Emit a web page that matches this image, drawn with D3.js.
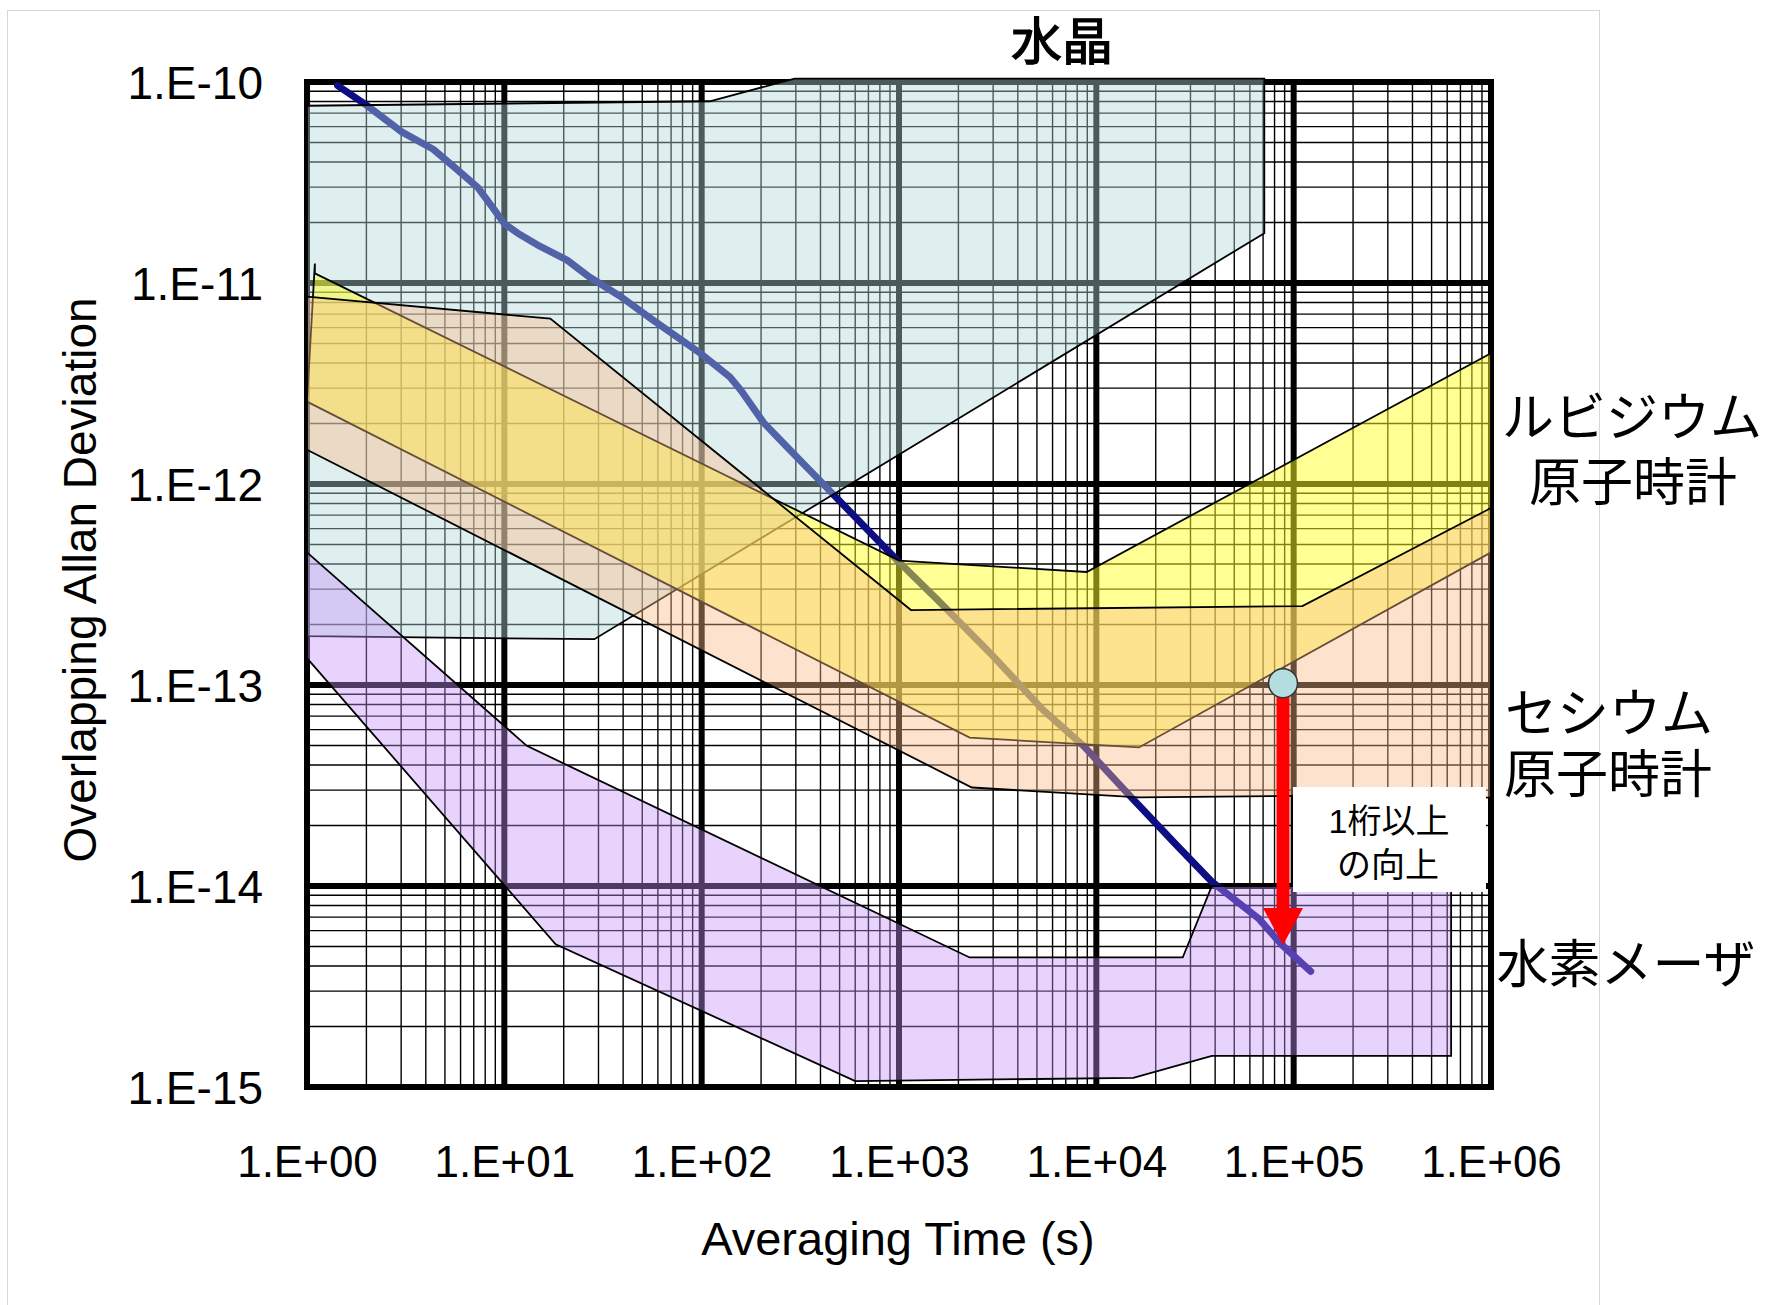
<!DOCTYPE html>
<html lang="ja"><head><meta charset="utf-8">
<script src="https://cdn.jsdelivr.net/npm/d3@7"></script>
<style>html,body{margin:0;padding:0;background:#fff;} svg{display:block;}</style>
</head><body><svg id="chart" width="1765" height="1305"></svg>
<script>
// ---------- data ----------
const xTickValues = [1, 1e1, 1e2, 1e3, 1e4, 1e5, 1e6];
const xTickLabels = ["1.E+00","1.E+01","1.E+02","1.E+03","1.E+04","1.E+05","1.E+06"];
const yTickValues = [1e-10, 1e-11, 1e-12, 1e-13, 1e-14, 1e-15];
const yTickLabels = ["1.E-10","1.E-11","1.E-12","1.E-13","1.E-14","1.E-15"];

// measured Allan deviation curve
const curveTau  = [1.43, 2.0, 3.02, 4.36, 5.51, 7.33, 8.79, 10.0, 11.7, 15.2, 20.8, 27.0, 38.8, 56.0, 99.1, 139, 158, 206, 267, 450, 982, 1570, 2900, 5350, 8610, 14800, 25600, 38500, 66400, 87100, 122000];
const curveAdev = [9.6e-11, 7.67e-11, 5.65e-11, 4.63e-11, 3.81e-11, 2.99e-11, 2.35e-11, 1.97e-11, 1.77e-11, 1.52e-11, 1.30e-11, 1.07e-11, 8.57e-12, 6.59e-12, 4.45e-12, 3.41e-12, 2.93e-12, 2.02e-12, 1.55e-12, 9.16e-13, 4.16e-13, 2.65e-13, 1.44e-13, 7.55e-14, 4.98e-14, 2.81e-14, 1.59e-14, 1.05e-14, 6.90e-15, 5.09e-15, 3.76e-15];

// quartz (水晶) region
const quartzTau  = [1, 110, 296, 71000, 71000, 28.6, 1];
const quartzAdev = [7.62e-11, 8.02e-11, 1.04e-10, 1.04e-10, 1.77e-11, 1.69e-13, 1.75e-13];

// rubidium region
const rubidiumTau  = [1.096, 1.096, 1002, 8930, 1e6, 1e6, 16440, 2280, 1];
const rubidiumAdev = [1.25e-11, 1.116e-11, 4.16e-13, 3.65e-13, 4.47e-12, 4.57e-13, 4.89e-14, 5.47e-14, 2.57e-12];

// cesium region
const cesiumTau  = [1, 17.1, 1150, 110700, 1e6, 1e6, 100000, 16440, 2340, 1];
const cesiumAdev = [8.55e-12, 6.65e-12, 2.36e-13, 2.47e-13, 7.59e-13, 2.75e-14, 2.81e-14, 2.76e-14, 3.09e-14, 1.48e-12];

// hydrogen maser region
const maserTau  = [1, 13.0, 2280, 27400, 38500, 628000, 628000, 38500, 15400, 600, 18.2, 1];
const maserAdev = [4.57e-13, 4.98e-14, 4.41e-15, 4.41e-15, 1.0e-14, 1.0e-14, 1.43e-15, 1.43e-15, 1.11e-15, 1.07e-15, 5.13e-15, 1.36e-13];

// annotation: improvement arrow
const arrowTau = 88300;
const arrowFromAdev = 1.02e-13;
const arrowToAdev = 5.09e-15;

const sideLabels = [
  {text: "ルビジウム", x: 1632, y: 436},
  {text: "原子時計",   x: 1633, y: 501},
  {text: "セシウム",   x: 1609, y: 732},
  {text: "原子時計",   x: 1608, y: 793},
  {text: "水素メーザ", x: 1626, y: 983}
];
const noteLines = [
  {text: "1桁以上", x: 1389, y: 833},
  {text: "の向上",  x: 1388, y: 877}
];

// ---------- scales ----------
const svg = d3.select("#chart");
const x = d3.scaleLog().domain([1, 1e6]).range([307, 1491]);
const y = d3.scaleLog().domain([1e-10, 1e-15]).range([82, 1087]);
const [x0, x1] = x.range();
const [y0, y1] = y.range();
const jpFont = "'Liberation Sans', 'Noto Sans CJK JP', sans-serif";
const latinFont = "'Liberation Sans', Arial, sans-serif";

// chart border
svg.append("rect").attr("x", 7.5).attr("y", 10.5).attr("width", 1592).attr("height", 1310)
  .attr("fill", "#fff").attr("stroke", "#d6d6d6").attr("stroke-width", 1);

// ---------- grid ----------
const isDecade = v => Math.abs(Math.log10(v) - Math.round(Math.log10(v))) < 1e-9;
const grid = svg.append("g");
const xt = x.ticks(), yt = y.ticks();
grid.selectAll(".vmin").data(xt.filter(d => !isDecade(d))).join("line")
  .attr("x1", d => x(d)).attr("x2", d => x(d)).attr("y1", y0).attr("y2", y1)
  .attr("stroke", "#000").attr("stroke-width", 1.4);
grid.selectAll(".hmin").data(yt.filter(d => !isDecade(d))).join("line")
  .attr("y1", d => y(d)).attr("y2", d => y(d)).attr("x1", x0).attr("x2", x1)
  .attr("stroke", "#000").attr("stroke-width", 1.4);
grid.selectAll(".vmaj").data(xTickValues).join("line")
  .attr("x1", d => x(d)).attr("x2", d => x(d)).attr("y1", y0 - 3).attr("y2", y1 + 3)
  .attr("stroke", "#000").attr("stroke-width", 6);
grid.selectAll(".hmaj").data(yTickValues).join("line")
  .attr("y1", d => y(d)).attr("y2", d => y(d)).attr("x1", x0 - 3).attr("x2", x1 + 3)
  .attr("stroke", "#000").attr("stroke-width", 6);

// ---------- curve (below translucent regions) ----------
const curvePts = curveTau.map((t, i) => [t, curveAdev[i]]);
svg.append("path").datum(curvePts)
  .attr("d", d3.line().x(d => x(d[0])).y(d => y(d[1])))
  .attr("fill", "none").attr("stroke", "#0d0d84").attr("stroke-width", 7)
  .attr("stroke-linejoin", "round").attr("stroke-linecap", "round");

// ---------- regions ----------
const regions = [
  {tau: quartzTau,   adev: quartzAdev,   fill: "rgba(178,218,220,0.42)"},
  {tau: rubidiumTau, adev: rubidiumAdev, fill: "rgba(255,255,40,0.5)"},
  {tau: cesiumTau,   adev: cesiumAdev,   fill: "rgba(250,186,136,0.41)"},
  {tau: maserTau,    adev: maserAdev,    fill: "rgba(195,145,245,0.4)"}
];
const polyLine = d3.line().x(d => x(d[0])).y(d => y(d[1]));
regions.forEach(r => {
  const pts = r.tau.map((t, i) => [t, r.adev[i]]);
  svg.append("path").datum(pts)
    .attr("d", polyLine(pts) + "Z")
    .attr("fill", r.fill).attr("stroke", "#000").attr("stroke-width", 1.8)
    .attr("stroke-linejoin", "miter");
});

// ---------- arrow annotation ----------
const ax = x(arrowTau), ayFrom = y(arrowFromAdev), ayTo = y(arrowToAdev);
const headH = 37, headW = 40, shaftW = 13, circR = 14.5;
svg.append("rect").attr("x", ax - shaftW / 2).attr("y", ayFrom)
  .attr("width", shaftW).attr("height", (ayTo - headH) - ayFrom + 1).attr("fill", "#ff0000");
svg.append("path")
  .attr("d", `M${ax - headW / 2},${ayTo - headH}L${ax + headW / 2},${ayTo - headH}L${ax},${ayTo}Z`)
  .attr("fill", "#ff0000");
svg.append("circle").attr("cx", ax).attr("cy", ayFrom).attr("r", circR)
  .attr("fill", "#b4dde0").attr("stroke", "#333").attr("stroke-width", 1.5);

// white note box
svg.append("rect").attr("x", 1293).attr("y", 787).attr("width", 193).attr("height", 105).attr("fill", "#fff");
svg.append("g").selectAll("text").data(noteLines).join("text")
  .attr("x", d => d.x).attr("y", d => d.y).attr("text-anchor", "middle")
  .attr("font-family", jpFont).attr("font-size", 34).attr("fill", "#000")
  .text(d => d.text);

// ---------- axes ----------
const xAxis = d3.axisBottom(x).tickValues(xTickValues).tickFormat((d, i) => xTickLabels[i]).tickSize(0);
const gx = svg.append("g").attr("transform", `translate(0,${y1})`).call(xAxis);
gx.select(".domain").remove();
gx.selectAll("text").attr("y", 75).attr("dy", "0.35em")
  .attr("font-family", latinFont).attr("font-size", 44).attr("fill", "#000");

const yAxis = d3.axisLeft(y).tickValues(yTickValues).tickFormat((d, i) => yTickLabels[i]).tickSize(0);
const gy = svg.append("g").attr("transform", `translate(${x0},0)`).call(yAxis);
gy.select(".domain").remove();
gy.selectAll("text").attr("x", -44).attr("dy", "0.35em")
  .attr("font-family", latinFont).attr("font-size", 46).attr("fill", "#000");

// axis titles
svg.append("text").attr("x", 898).attr("y", 1238).attr("text-anchor", "middle").attr("dominant-baseline", "central")
  .attr("font-family", latinFont).attr("font-size", 47).text("Averaging Time (s)");
svg.append("text").attr("transform", "translate(80,580) rotate(-90)").attr("text-anchor", "middle")
  .attr("dominant-baseline", "central")
  .attr("font-family", latinFont).attr("font-size", 46).text("Overlapping Allan Deviation");

// title and side labels
svg.append("text").attr("x", 1062).attr("y", 60).attr("text-anchor", "middle")
  .attr("font-family", jpFont).attr("font-size", 51)
  .attr("stroke", "#000").attr("stroke-width", 1.2).text("水晶");
svg.append("g").selectAll("text").data(sideLabels).join("text")
  .attr("x", d => d.x).attr("y", d => d.y).attr("text-anchor", "middle")
  .attr("font-family", jpFont).attr("font-size", 52).attr("fill", "#000")
  .text(d => d.text);
</script>
</body></html>
